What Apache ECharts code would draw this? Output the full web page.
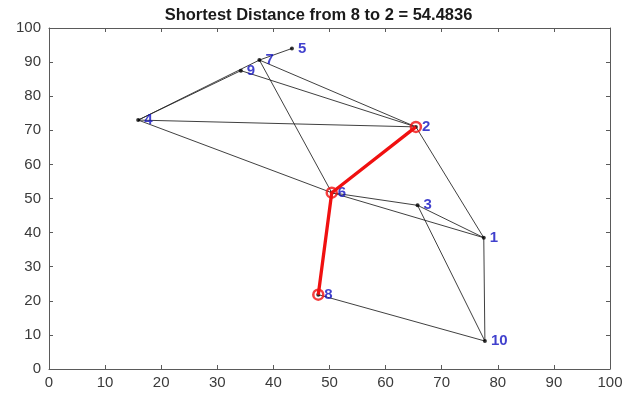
<!DOCTYPE html>
<html><head><meta charset="utf-8">
<script src="https://cdn.jsdelivr.net/npm/echarts@6/dist/echarts.min.js"></script>
<style>html,body{margin:0;padding:0;background:#fff}#c{width:637px;height:397px}</style>
</head><body><div id="c"></div>
<script>
const nodeNames = ['1','2','3','4','5','6','7','8','9','10'];
const nodeX = [77.5, 65.4, 65.7, 15.9, 43.3, 50.4, 37.5, 48.0, 34.2, 77.7];
const nodeY = [38.5, 71.0, 48.0, 73.0, 94.0, 51.7, 90.6, 21.8, 87.5, 8.2];
const edges = [[4,7],[4,9],[7,5],[7,2],[9,2],[7,6],[4,2],[4,6],[2,1],[6,3],[6,1],[3,1],[3,10],[1,10],[8,10]];
const pathNodes = [8,6,2];
const tickLabels = [0,10,20,30,40,50,60,70,80,90,100];
const titleText = 'Shortest Distance from 8 to 2 = 54.4836';

const pt = i => [nodeX[i-1], nodeY[i-1]];
const chart = echarts.init(document.getElementById('c'));
const axisCommon = {
  type:'value', min:0, max:100, interval:10,
  axisLine:{show:true, onZero:false, lineStyle:{color:'#5a5a5a', width:1}},
  axisTick:{show:true, inside:true, length:4, lineStyle:{color:'#5a5a5a'}},
  splitLine:{show:false}
};
const lbl = {color:'#3a3a3a', fontSize:15, fontFamily:'Liberation Sans, Arial, sans-serif', formatter: v => tickLabels.includes(v) ? String(v) : ''};
chart.setOption({
  animation:false,
  title:{text:titleText, left:'center', top:2, textStyle:{fontSize:16.5, fontWeight:'bold', color:'#1a1a1a', fontFamily:'Liberation Sans, Arial, sans-serif'}},
  grid:{left:49, right:27, top:28, bottom:28},
  xAxis:[
    Object.assign({}, axisCommon, {position:'bottom', axisLabel:Object.assign({margin:6}, lbl)}),
    Object.assign({}, axisCommon, {position:'top', axisLabel:{show:false}})
  ],
  yAxis:[
    Object.assign({}, axisCommon, {position:'left', axisLabel:Object.assign({margin:8}, lbl)}),
    Object.assign({}, axisCommon, {position:'right', axisLabel:{show:false}})
  ],
  series:[
    {type:'lines', coordinateSystem:'cartesian2d', xAxisIndex:0, yAxisIndex:0, silent:true,
     lineStyle:{color:'#2a2a2a', width:0.9, opacity:1},
     data: edges.map(e => ({coords:[pt(e[0]), pt(e[1])]}))},
    {type:'line', xAxisIndex:0, yAxisIndex:0, symbol:'none', silent:true,
     lineStyle:{color:'#f01010', width:3.3},
     data: pathNodes.map(pt)},
    {type:'scatter', xAxisIndex:0, yAxisIndex:0, symbol:'circle', symbolSize:10, silent:true,
     itemStyle:{color:'rgba(0,0,0,0)', borderColor:'#f01010', borderWidth:2.5},
     data: pathNodes.map(pt)},
    {type:'scatter', xAxisIndex:0, yAxisIndex:0, symbol:'circle', symbolSize:4, silent:true,
     itemStyle:{color:'#000'},
     label:{show:true, position:'right', distance:4, color:'#1010c0', fontWeight:'bold', fontSize:15, fontFamily:'Liberation Sans, Arial, sans-serif', formatter: p => p.data.name},
     data: nodeNames.map((n,i) => ({name:n, value:[nodeX[i], nodeY[i]]}))}
  ]
});
</script></body></html>
